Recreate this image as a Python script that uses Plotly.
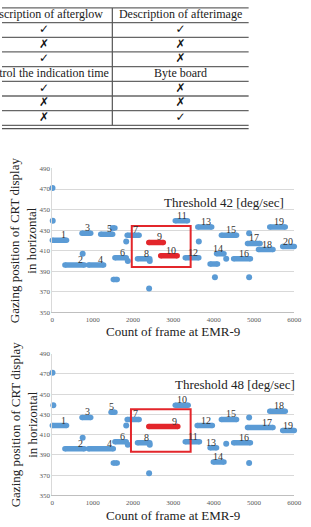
import plotly.graph_objects as go

# ---------------- data ----------------
TABLE_HEADER = ["Description of afterglow", "Description of afterimage"]
TABLE_ROWS = [
    ["✓", "✓"],
    ["✗", "✗"],
    ["✓", "✗"],
    ["Control the indication time", "Byte board"],
    ["✓", "✗"],
    ["✗", "✗"],
    ["✗", "✓"],
]

# chart 1 : threshold 42
C1_TITLE = "Threshold 42 [deg/sec]"
C1_SEG_START = [0, 312, 736, 896, 1200, 1488, 1512, 1552, 1856, 2112, 2392, 2688, 3048, 3296, 3608, 3912, 4072, 4192, 4496, 4840, 5112, 5392, 5712]
C1_SEG_END = [352, 792, 952, 1272, 1496, 1552, 1608, 1832, 2152, 2416, 2752, 3096, 3352, 3632, 3952, 4096, 4256, 4568, 4912, 5152, 5472, 5776, 6000]
C1_SEG_VALUE = [420, 396, 427, 396, 426, 432, 382, 403, 425, 402, 418, 405, 439, 403, 433, 397, 407, 425, 402, 417, 411, 433, 414]
C1_SEG_LABEL = ["1", "2", "3", "4", "5", "", "", "6", "7", "8", "9", "10", "11", "12", "13", "", "14", "15", "16", "17", "18", "19", "20"]
C1_SEG_SELECTED = ["9", "10"]
C1_PT_X = [5, 10, 752, 1832, 1872, 2416, 2400, 3632, 4032, 4312, 4880, 4880]
C1_PT_Y = [471, 439, 407, 419, 400, 400, 373, 419, 384, 402, 427, 384]
C1_BOX = [1970, 3430, 394, 434]

# chart 2 : threshold 48
C2_TITLE = "Threshold 48 [deg/sec]"
C2_SEG_START = [0, 312, 736, 896, 1456, 1512, 1552, 1856, 2112, 2392, 3048, 3296, 3592, 3912, 3992, 4192, 4496, 4840, 5392, 5712]
C2_SEG_END = [352, 792, 952, 1512, 1552, 1608, 1832, 2152, 2416, 3112, 3368, 3648, 3968, 4072, 4256, 4568, 4912, 5472, 5776, 6000]
C2_SEG_VALUE = [419, 396, 427, 396, 432, 382, 403, 425, 402, 418, 439, 403, 419, 397, 383, 425, 402, 417, 433, 414]
C2_SEG_LABEL = ["1", "2", "3", "4", "5", "", "6", "7", "8", "9", "10", "11", "12", "13", "14", "15", "16", "17", "18", "19"]
C2_SEG_SELECTED = ["9"]
C2_PT_X = [5, 25, 752, 1832, 1872, 2416, 2400, 4312, 4880, 4880]
C2_PT_Y = [471, 439, 407, 419, 400, 400, 372, 401, 427, 382]
C2_BOX = [1950, 3430, 393, 435]

X_TICKS = [0, 1000, 2000, 3000, 4000, 5000, 6000]
Y_TICKS = [350, 370, 390, 410, 430, 450, 470, 490]
X_TITLE = "Count of frame at EMR-9"
Y_TITLE = "Gazing position of CRT display<br>in horizontal"

# ---------------- style ----------------
W, H = 311, 527
BLUE = "#5b9bd5"
RED = "#e3262b"
SERIF = "Liberation Serif, Times New Roman, serif"
SYM = "DejaVu Sans, sans-serif"


def py(p):  # pixel row -> paper y
    return 1 - p / H


def px(p):
    return p / W


fig = go.Figure()


def add_chart(xa, ya, starts, ends, vals, labels, selected, ptx, pty, box, title):
    for s, e, v, lab in zip(starts, ends, vals, labels):
        col = RED if lab in selected and lab != "" else BLUE
        fig.add_trace(go.Scatter(
            x=[s, e], y=[v, v], mode="lines+markers",
            line=dict(color=col, width=5.5), marker=dict(color=col, size=5.5),
            xaxis=xa, yaxis=ya, showlegend=False, cliponaxis=False,
            hoverinfo="skip"))
        if lab:
            fig.add_annotation(x=e, y=v, xref=xa, yref=ya, text=lab,
                               showarrow=False, xanchor="right", yanchor="bottom",
                               yshift=-2, xshift=1,
                               font=dict(family=SERIF, size=10, color="#333333"))
    fig.add_trace(go.Scatter(
        x=ptx, y=pty, mode="markers", marker=dict(color=BLUE, size=6),
        xaxis=xa, yaxis=ya, showlegend=False, cliponaxis=False,
        hoverinfo="skip"))
    fig.add_shape(type="rect", xref=xa, yref=ya,
                  x0=box[0], x1=box[1], y0=box[2], y1=box[3],
                  line=dict(color=RED, width=2))


add_chart("x", "y", C1_SEG_START, C1_SEG_END, C1_SEG_VALUE, C1_SEG_LABEL,
          C1_SEG_SELECTED, C1_PT_X, C1_PT_Y, C1_BOX, C1_TITLE)
add_chart("x2", "y2", C2_SEG_START, C2_SEG_END, C2_SEG_VALUE, C2_SEG_LABEL,
          C2_SEG_SELECTED, C2_PT_X, C2_PT_Y, C2_BOX, C2_TITLE)

# chart geometry (pixels)
PL, PR = 52, 302
C1_T, C1_B = 167, 313
C2_T, C2_B = 355, 499

axis_common = dict(showgrid=True, zeroline=False, ticks="",
                   tickfont=dict(family=SERIF, size=7, color="#595959"))
xcommon = dict(axis_common, range=[0, 6000], tickvals=X_TICKS, showgrid=False,
               showline=True, linecolor="#bfbfbf", linewidth=1)
ycommon = dict(axis_common, range=[350, 490], tickvals=Y_TICKS,
               gridcolor="#d9d9d9", gridwidth=1,
               showline=True, linecolor="#d9d9d9", linewidth=1)

fig.update_layout(
    xaxis=dict(xcommon, domain=[px(PL), px(PR)], anchor="y"),
    yaxis=dict(ycommon, domain=[py(C1_B), py(C1_T)], anchor="x"),
    xaxis2=dict(xcommon, domain=[px(PL), px(PR)], anchor="y2"),
    yaxis2=dict(ycommon, domain=[py(C2_B), py(C2_T)], anchor="x2"),
)

# titles & threshold notes
for (xr, yr, top, bot, title, tx, ty) in [
        ("x", "y", C1_T, C1_B, C1_TITLE, 4250, 457),
        ("x2", "y2", C2_T, C2_B, C2_TITLE, 4540, 460)]:
    fig.add_annotation(x=(px(PL) + px(PR)) / 2, y=py(bot + 20), xref="paper", yref="paper",
                       text=X_TITLE, showarrow=False, xanchor="center", yanchor="middle",
                       font=dict(family=SERIF, size=13, color="#222222"))
    fig.add_annotation(x=px(22.5), y=py((top + bot) / 2), xref="paper", yref="paper",
                       text=Y_TITLE, showarrow=False, textangle=-90,
                       xanchor="center", yanchor="middle",
                       font=dict(family=SERIF, size=13, color="#222222"))
    fig.add_annotation(x=tx, y=ty, xref=xr, yref=yr, text=title, showarrow=False,
                       xanchor="center", yanchor="middle",
                       font=dict(family=SERIF, size=13, color="#222222"))

# ---------------- table ----------------
ROW_PX = 14.9
TOP_PX = 4
COL_PX = 141
RIGHT_PX = 255
n_rows = len(TABLE_ROWS) + 1
fig.update_layout(
    xaxis3=dict(domain=[0, px(RIGHT_PX)], range=[2 - RIGHT_PX / COL_PX, 2],
                visible=False, anchor="y3"),
    yaxis3=dict(domain=[py(130), 1], range=[(130 - TOP_PX) / ROW_PX, -TOP_PX / ROW_PX],
                visible=False, anchor="x3"),
)
all_rows = [TABLE_HEADER] + TABLE_ROWS
word_x, word_y, word_t, sym_x, sym_y, sym_t = [], [], [], [], [], []
for r, row in enumerate(all_rows):
    for c, cell in enumerate(row):
        if cell in ("✓", "✗"):
            sym_x.append(c + 0.5); sym_y.append(r + 0.5); sym_t.append("<b>" + cell + "</b>")
        else:
            word_x.append(c + 0.5); word_y.append(r + 0.5); word_t.append(cell)
fig.add_trace(go.Scatter(x=word_x, y=word_y, text=word_t, mode="text",
                         textfont=dict(family=SERIF, size=12, color="#1a1a1a"),
                         xaxis="x3", yaxis="y3", showlegend=False, cliponaxis=False,
                         hoverinfo="skip"))
fig.add_trace(go.Scatter(x=sym_x, y=sym_y, text=sym_t, mode="text",
                         textfont=dict(family=SYM, size=12, color="#111111"),
                         xaxis="x3", yaxis="y3", showlegend=False, cliponaxis=False,
                         hoverinfo="skip"))
for k in range(n_rows + 1):
    fig.add_shape(type="line", xref="x3", yref="y3", x0=0, x1=2, y0=k, y1=k,
                  line=dict(color="#666666", width=1.3))
fig.add_shape(type="line", xref="x3", yref="y3", x0=0, x1=2,
              y0=n_rows + 0.23, y1=n_rows + 0.23, line=dict(color="#555555", width=1.3))
fig.add_shape(type="line", xref="x3", yref="y3", x0=1, x1=1, y0=0, y1=n_rows,
              line=dict(color="#555555", width=1.2))

fig.update_layout(width=W, height=H, margin=dict(l=0, r=0, t=0, b=0),
                  paper_bgcolor="white", plot_bgcolor="white")
fig.write_html("out.html")
